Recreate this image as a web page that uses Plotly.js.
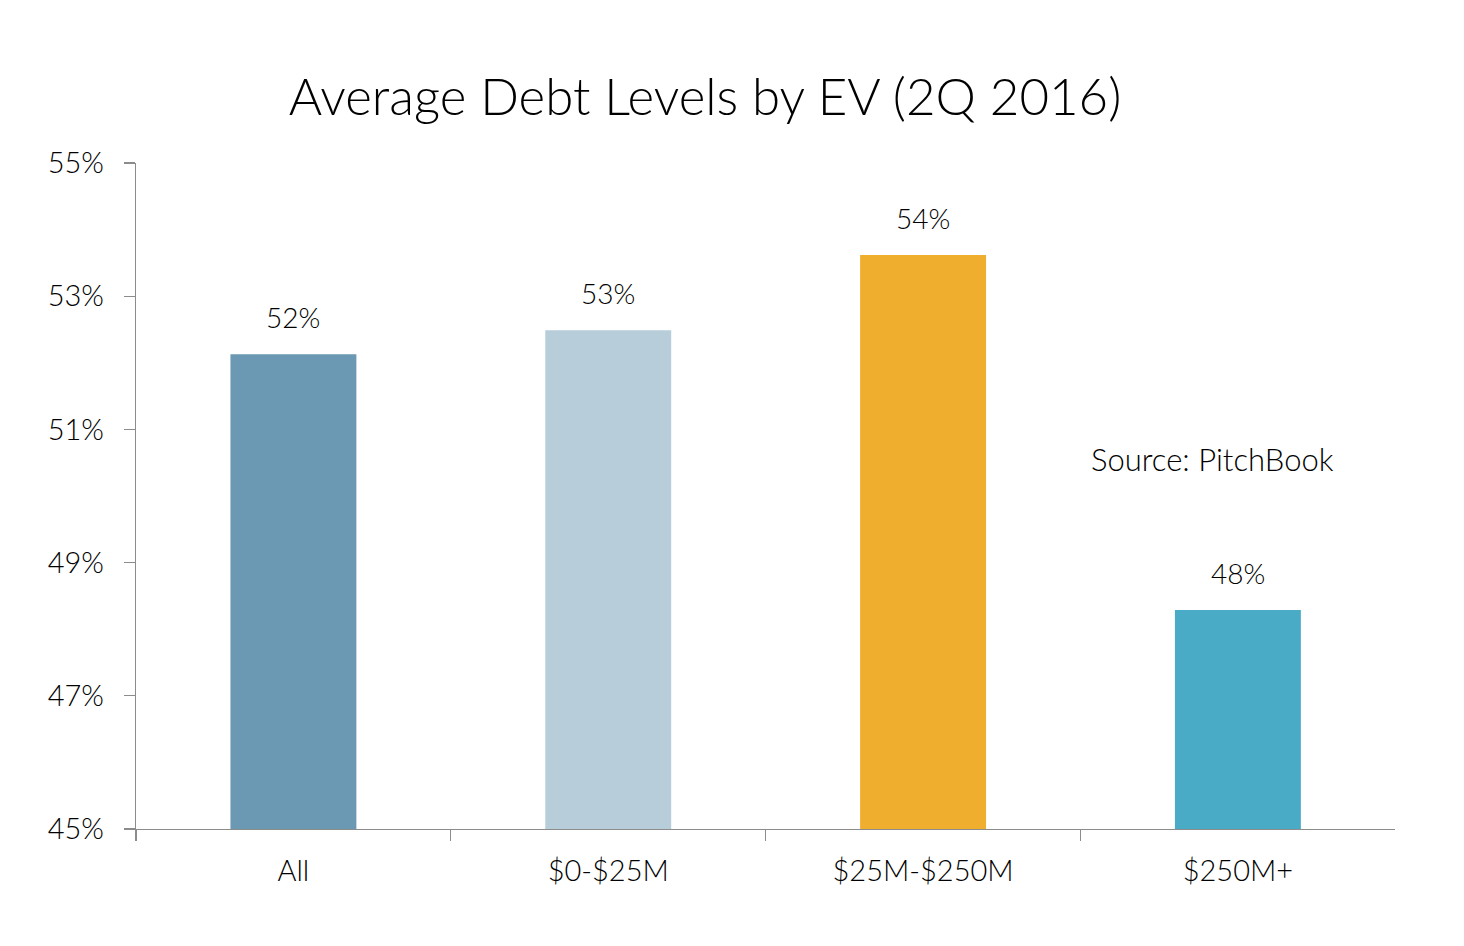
<!DOCTYPE html>
<html>
<head>
<meta charset="utf-8">
<script src="https://cdn.plot.ly/plotly-3.0.1.min.js"></script>
<style>
  html, body { margin: 0; padding: 0; background: #ffffff; }
  #myChart { width: 1464px; height: 946px; }
</style>
</head>
<body>
<div id="myChart"></div>
<script>
// values (percent)
const categories = ['All', '$0-$25M', '$25M-$250M', '$250M+'];
const debt_levels = [52.13, 52.49, 53.62, 48.29];
const value_labels = ['52%', '53%', '54%', '48%'];
const bar_colors = ['#6B98B2', '#B7CDDA', '#F0AE2E', '#4AABC6'];
const y_ticks = [45, 47, 49, 51, 53, 55];
const y_tick_labels = ['45%', '47%', '49%', '51%', '53%', '55%'];

const FONT = 'Lato, "Noto Sans", sans-serif';
const WEIGHT = 300;
const TEXT_COLOR = '#000000';
const AXIS_COLOR = '#8c8c8c';

const trace = {
    x: categories,
    y: debt_levels,
    type: 'bar',
    width: 0.4,
    marker: { color: bar_colors },
    hoverinfo: 'skip'
};

let label_notes = categories.map(function (c, i) {
    return {
        x: c,
        y: debt_levels[i],
        xref: 'x',
        yref: 'y',
        text: value_labels[i],
        showarrow: false,
        yanchor: 'bottom',
        yshift: 18,
        font: { family: FONT, weight: WEIGHT, size: 28, color: TEXT_COLOR }
    };
});

label_notes.push({
    x: 0.757,
    y: 0.556,
    xref: 'paper',
    yref: 'paper',
    xanchor: 'left',
    yanchor: 'middle',
    text: 'Source: PitchBook',
    showarrow: false,
    font: { family: FONT, weight: WEIGHT, size: 31, color: TEXT_COLOR }
});

const layout = {
    title: {
        text: 'Average Debt Levels by EV (2Q 2016)',
        font: { family: FONT, weight: WEIGHT, size: 51, color: TEXT_COLOR },
        x: 0.4816,
        xref: 'container',
        xanchor: 'center',
        y: 0.897,
        yref: 'container',
        yanchor: 'middle'
    },
    xaxis: {
        type: 'category',
        // stop just short of the last boundary so no tick is drawn at the right end
        range: [-0.5, 3.499],
        showline: true,
        linecolor: AXIS_COLOR,
        linewidth: 1.3,
        ticks: 'outside',
        tickson: 'boundaries',
        ticklen: 11,
        tickcolor: AXIS_COLOR,
        tickwidth: 1.3,
        ticklabelstandoff: 16,
        tickfont: { family: FONT, weight: WEIGHT, size: 29, color: TEXT_COLOR },
        showgrid: false,
        zeroline: false,
        fixedrange: true
    },
    yaxis: {
        range: [45, 55],
        tickvals: y_ticks,
        ticktext: y_tick_labels,
        showline: true,
        linecolor: AXIS_COLOR,
        linewidth: 1.3,
        ticks: 'outside',
        ticklen: 11,
        tickcolor: AXIS_COLOR,
        tickwidth: 1.3,
        ticklabelstandoff: 14,
        tickfont: { family: FONT, weight: WEIGHT, size: 29, color: TEXT_COLOR },
        showgrid: false,
        zeroline: false,
        fixedrange: true
    },
    annotations: label_notes,
    showlegend: false,
    paper_bgcolor: '#ffffff',
    plot_bgcolor: '#ffffff',
    width: 1464,
    height: 946,
    margin: { t: 163, b: 117, l: 136, r: 69 }
};

Plotly.newPlot('myChart', [trace], layout, { displayModeBar: false, staticPlot: true });
</script>
</body>
</html>
